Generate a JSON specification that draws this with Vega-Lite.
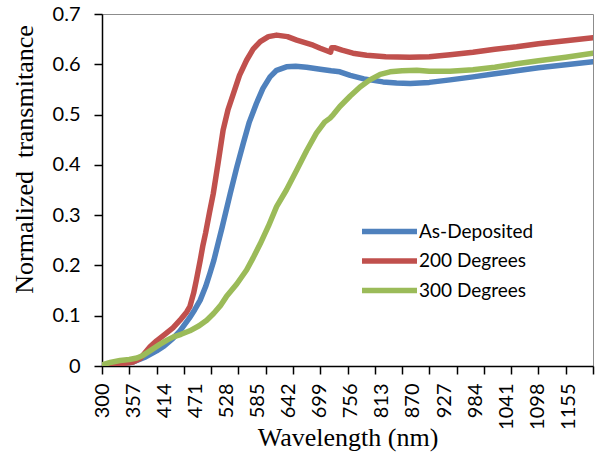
{
  "$schema": "https://vega.github.io/schema/vega-lite/v6.json",
  "width": 491,
  "height": 352,
  "autosize": {"type": "none"},
  "padding": {"left": 102, "top": 14, "right": 5, "bottom": 88},
  "background": "white",
  "config": {
    "view": {"stroke": "#8c8c8c", "strokeWidth": 1},
    "axis": {"grid": false, "domainColor": "black", "domainWidth": 1.5, "tickColor": "black", "tickWidth": 1.5, "tickSize": 8, "labelFont": "Lato", "labelFontSize": 20, "labelColor": "black", "titleFont": "Liberation Serif", "titleFontSize": 26, "titleFontWeight": "normal", "titleColor": "black", "labelFlush": false, "labelOverlap": false, "labelBound": false}
  },
  "data": {
    "values": [
      {"wl": 300, "v": 0, "s": "As-Deposited"},
      {"wl": 330, "v": 0.003, "s": "As-Deposited"},
      {"wl": 357, "v": 0.008, "s": "As-Deposited"},
      {"wl": 380, "v": 0.018, "s": "As-Deposited"},
      {"wl": 400, "v": 0.03, "s": "As-Deposited"},
      {"wl": 414, "v": 0.04, "s": "As-Deposited"},
      {"wl": 430, "v": 0.055, "s": "As-Deposited"},
      {"wl": 443, "v": 0.07, "s": "As-Deposited"},
      {"wl": 460, "v": 0.095, "s": "As-Deposited"},
      {"wl": 470, "v": 0.112, "s": "As-Deposited"},
      {"wl": 480, "v": 0.131, "s": "As-Deposited"},
      {"wl": 490, "v": 0.158, "s": "As-Deposited"},
      {"wl": 498, "v": 0.185, "s": "As-Deposited"},
      {"wl": 505, "v": 0.21, "s": "As-Deposited"},
      {"wl": 513, "v": 0.245, "s": "As-Deposited"},
      {"wl": 520, "v": 0.275, "s": "As-Deposited"},
      {"wl": 535, "v": 0.343, "s": "As-Deposited"},
      {"wl": 547, "v": 0.395, "s": "As-Deposited"},
      {"wl": 559, "v": 0.443, "s": "As-Deposited"},
      {"wl": 570, "v": 0.485, "s": "As-Deposited"},
      {"wl": 583, "v": 0.522, "s": "As-Deposited"},
      {"wl": 595, "v": 0.552, "s": "As-Deposited"},
      {"wl": 608, "v": 0.575, "s": "As-Deposited"},
      {"wl": 620, "v": 0.588, "s": "As-Deposited"},
      {"wl": 638, "v": 0.595, "s": "As-Deposited"},
      {"wl": 655, "v": 0.596, "s": "As-Deposited"},
      {"wl": 675, "v": 0.594, "s": "As-Deposited"},
      {"wl": 700, "v": 0.59, "s": "As-Deposited"},
      {"wl": 720, "v": 0.587, "s": "As-Deposited"},
      {"wl": 736, "v": 0.585, "s": "As-Deposited"},
      {"wl": 755, "v": 0.578, "s": "As-Deposited"},
      {"wl": 780, "v": 0.571, "s": "As-Deposited"},
      {"wl": 815, "v": 0.565, "s": "As-Deposited"},
      {"wl": 840, "v": 0.563, "s": "As-Deposited"},
      {"wl": 865, "v": 0.562, "s": "As-Deposited"},
      {"wl": 900, "v": 0.564, "s": "As-Deposited"},
      {"wl": 938, "v": 0.569, "s": "As-Deposited"},
      {"wl": 980, "v": 0.575, "s": "As-Deposited"},
      {"wl": 1020, "v": 0.581, "s": "As-Deposited"},
      {"wl": 1060, "v": 0.587, "s": "As-Deposited"},
      {"wl": 1100, "v": 0.593, "s": "As-Deposited"},
      {"wl": 1150, "v": 0.599, "s": "As-Deposited"},
      {"wl": 1200, "v": 0.605, "s": "As-Deposited"},
      {"wl": 300, "v": 0, "s": "200 Degrees"},
      {"wl": 330, "v": 0.003, "s": "200 Degrees"},
      {"wl": 357, "v": 0.008, "s": "200 Degrees"},
      {"wl": 370, "v": 0.015, "s": "200 Degrees"},
      {"wl": 388, "v": 0.038, "s": "200 Degrees"},
      {"wl": 400, "v": 0.05, "s": "200 Degrees"},
      {"wl": 414, "v": 0.062, "s": "200 Degrees"},
      {"wl": 430, "v": 0.076, "s": "200 Degrees"},
      {"wl": 443, "v": 0.091, "s": "200 Degrees"},
      {"wl": 455, "v": 0.107, "s": "200 Degrees"},
      {"wl": 461, "v": 0.118, "s": "200 Degrees"},
      {"wl": 468, "v": 0.145, "s": "200 Degrees"},
      {"wl": 473, "v": 0.171, "s": "200 Degrees"},
      {"wl": 480, "v": 0.21, "s": "200 Degrees"},
      {"wl": 485, "v": 0.24, "s": "200 Degrees"},
      {"wl": 490, "v": 0.265, "s": "200 Degrees"},
      {"wl": 497, "v": 0.305, "s": "200 Degrees"},
      {"wl": 504, "v": 0.343, "s": "200 Degrees"},
      {"wl": 513, "v": 0.405, "s": "200 Degrees"},
      {"wl": 522, "v": 0.469, "s": "200 Degrees"},
      {"wl": 531, "v": 0.51, "s": "200 Degrees"},
      {"wl": 541, "v": 0.542, "s": "200 Degrees"},
      {"wl": 552, "v": 0.578, "s": "200 Degrees"},
      {"wl": 565, "v": 0.608, "s": "200 Degrees"},
      {"wl": 577, "v": 0.63, "s": "200 Degrees"},
      {"wl": 590, "v": 0.645, "s": "200 Degrees"},
      {"wl": 605, "v": 0.655, "s": "200 Degrees"},
      {"wl": 620, "v": 0.658, "s": "200 Degrees"},
      {"wl": 640, "v": 0.655, "s": "200 Degrees"},
      {"wl": 657, "v": 0.648, "s": "200 Degrees"},
      {"wl": 672, "v": 0.643, "s": "200 Degrees"},
      {"wl": 687, "v": 0.638, "s": "200 Degrees"},
      {"wl": 700, "v": 0.632, "s": "200 Degrees"},
      {"wl": 712, "v": 0.627, "s": "200 Degrees"},
      {"wl": 719, "v": 0.624, "s": "200 Degrees"},
      {"wl": 721, "v": 0.633, "s": "200 Degrees"},
      {"wl": 726, "v": 0.633, "s": "200 Degrees"},
      {"wl": 740, "v": 0.628, "s": "200 Degrees"},
      {"wl": 760, "v": 0.622, "s": "200 Degrees"},
      {"wl": 785, "v": 0.618, "s": "200 Degrees"},
      {"wl": 820, "v": 0.615, "s": "200 Degrees"},
      {"wl": 864, "v": 0.614, "s": "200 Degrees"},
      {"wl": 900, "v": 0.615, "s": "200 Degrees"},
      {"wl": 938, "v": 0.619, "s": "200 Degrees"},
      {"wl": 980, "v": 0.624, "s": "200 Degrees"},
      {"wl": 1020, "v": 0.63, "s": "200 Degrees"},
      {"wl": 1060, "v": 0.635, "s": "200 Degrees"},
      {"wl": 1100, "v": 0.641, "s": "200 Degrees"},
      {"wl": 1150, "v": 0.647, "s": "200 Degrees"},
      {"wl": 1200, "v": 0.653, "s": "200 Degrees"},
      {"wl": 300, "v": 0.002, "s": "300 Degrees"},
      {"wl": 315, "v": 0.007, "s": "300 Degrees"},
      {"wl": 333, "v": 0.011, "s": "300 Degrees"},
      {"wl": 350, "v": 0.013, "s": "300 Degrees"},
      {"wl": 364, "v": 0.016, "s": "300 Degrees"},
      {"wl": 375, "v": 0.021, "s": "300 Degrees"},
      {"wl": 388, "v": 0.03, "s": "300 Degrees"},
      {"wl": 406, "v": 0.043, "s": "300 Degrees"},
      {"wl": 420, "v": 0.052, "s": "300 Degrees"},
      {"wl": 431, "v": 0.058, "s": "300 Degrees"},
      {"wl": 445, "v": 0.063, "s": "300 Degrees"},
      {"wl": 461, "v": 0.07, "s": "300 Degrees"},
      {"wl": 478, "v": 0.08, "s": "300 Degrees"},
      {"wl": 492, "v": 0.091, "s": "300 Degrees"},
      {"wl": 505, "v": 0.105, "s": "300 Degrees"},
      {"wl": 517, "v": 0.12, "s": "300 Degrees"},
      {"wl": 528, "v": 0.138, "s": "300 Degrees"},
      {"wl": 547, "v": 0.163, "s": "300 Degrees"},
      {"wl": 565, "v": 0.191, "s": "300 Degrees"},
      {"wl": 577, "v": 0.215, "s": "300 Degrees"},
      {"wl": 590, "v": 0.243, "s": "300 Degrees"},
      {"wl": 605, "v": 0.278, "s": "300 Degrees"},
      {"wl": 620, "v": 0.317, "s": "300 Degrees"},
      {"wl": 638, "v": 0.35, "s": "300 Degrees"},
      {"wl": 657, "v": 0.39, "s": "300 Degrees"},
      {"wl": 675, "v": 0.428, "s": "300 Degrees"},
      {"wl": 693, "v": 0.463, "s": "300 Degrees"},
      {"wl": 708, "v": 0.485, "s": "300 Degrees"},
      {"wl": 718, "v": 0.493, "s": "300 Degrees"},
      {"wl": 724, "v": 0.5, "s": "300 Degrees"},
      {"wl": 736, "v": 0.516, "s": "300 Degrees"},
      {"wl": 755, "v": 0.537, "s": "300 Degrees"},
      {"wl": 773, "v": 0.555, "s": "300 Degrees"},
      {"wl": 791, "v": 0.569, "s": "300 Degrees"},
      {"wl": 810, "v": 0.58, "s": "300 Degrees"},
      {"wl": 828, "v": 0.585, "s": "300 Degrees"},
      {"wl": 850, "v": 0.587, "s": "300 Degrees"},
      {"wl": 877, "v": 0.588, "s": "300 Degrees"},
      {"wl": 900, "v": 0.586, "s": "300 Degrees"},
      {"wl": 938, "v": 0.586, "s": "300 Degrees"},
      {"wl": 980, "v": 0.589, "s": "300 Degrees"},
      {"wl": 1020, "v": 0.594, "s": "300 Degrees"},
      {"wl": 1060, "v": 0.601, "s": "300 Degrees"},
      {"wl": 1100, "v": 0.607, "s": "300 Degrees"},
      {"wl": 1150, "v": 0.614, "s": "300 Degrees"},
      {"wl": 1200, "v": 0.622, "s": "300 Degrees"}
    ]
  },
  "mark": {"type": "line", "strokeWidth": 5.5, "strokeCap": "round", "strokeJoin": "round", "clip": true},
  "encoding": {
    "x": {
      "field": "wl", "type": "quantitative",
      "scale": {"domain": [300, 1200], "nice": false, "zero": false},
      "axis": {
        "title": "Wavelength (nm)",
        "titleFont": "Liberation Serif, Times New Roman, serif",
        "titleX": 245.5, "titleY": 79, "titleBaseline": "alphabetic",
        "values": [300, 350, 357, 400, 414, 450, 471, 500, 528, 550, 585, 600, 642, 650, 699, 700, 750, 756, 800, 813, 850, 870, 900, 927, 950, 984, 1000, 1041, 1050, 1098, 1100, 1150, 1155, 1200],
        "format": "d",
        "labelAngle": -90,
        "labelPadding": 9,
        "labelExpr": "(datum.value - 300) % 57 === 0 ? datum.label : ''",
        "tickOpacity": {"condition": {"test": "(datum.value - 300) % 50 === 0", "value": 1}, "value": 0}
      }
    },
    "y": {
      "field": "v", "type": "quantitative",
      "scale": {"domain": [0, 0.7], "nice": false},
      "axis": {
        "title": "Normalized\u00a0 transmitance",
        "titleFont": "Liberation Serif, Times New Roman, serif",
        "titleX": -78, "titleY": 145, "titleBaseline": "middle", "titleAlign": "center",
        "values": [0, 0.1, 0.2, 0.3, 0.4, 0.5, 0.6, 0.7],
        "format": ".1~f",
        "labelPadding": 14
      }
    },
    "color": {
      "field": "s", "type": "nominal",
      "scale": {"domain": ["As-Deposited", "200 Degrees", "300 Degrees"], "range": ["#4F81BD", "#C0504D", "#9BBB59"]},
      "legend": {"orient": "none", "legendX": 256, "legendY": 208, "title": null, "symbolType": "M-1,0H9", "symbolSize": 121, "symbolStrokeWidth": 5.5, "labelFont": "Lato", "labelFontSize": 19, "labelColor": "black", "labelOffset": 42, "rowPadding": 6.5, "padding": 0}
    }
  }
}
